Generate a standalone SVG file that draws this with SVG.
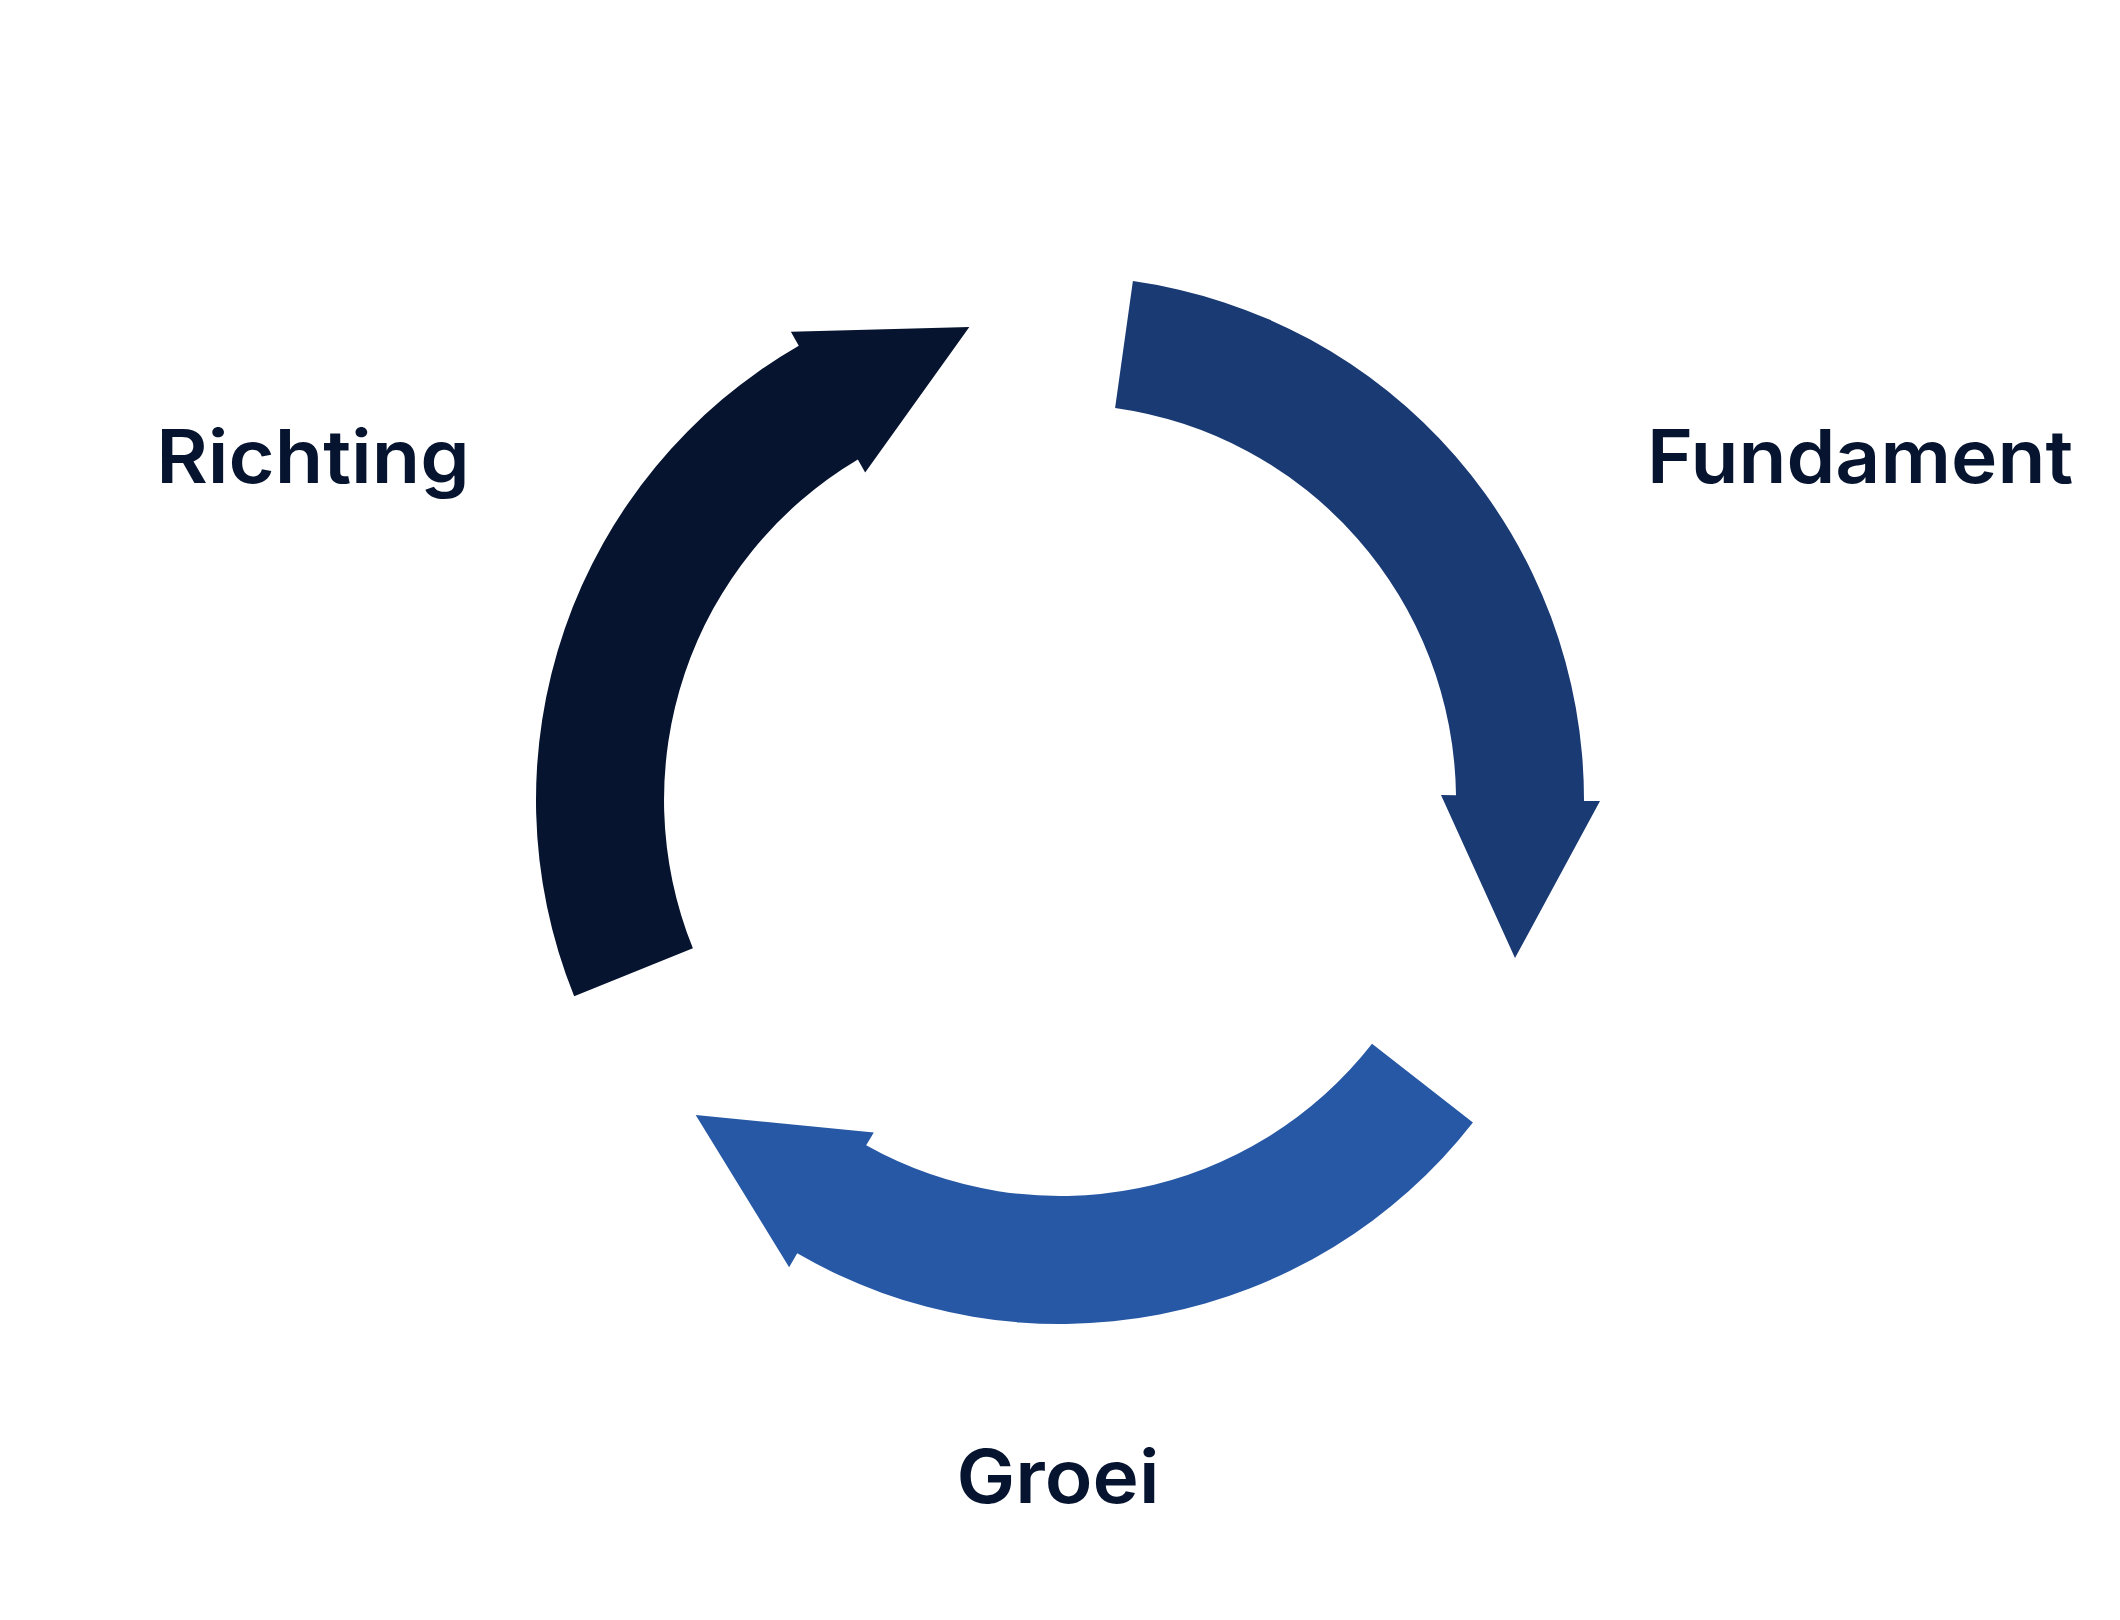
<svg xmlns="http://www.w3.org/2000/svg" width="2120" height="1620" viewBox="0 0 2120 1620">
  <style>
    .lbl { font-family: Inter, "Liberation Sans", sans-serif; font-weight: 600; font-size: 74px; fill: #06142F; text-anchor: middle; }
  </style>
  <defs>
    <path id="arrowShape" d="M 1132.9 281.1 A 524 524 0 0 1 1584 800.9 L 1600 801 L 1515 958 L 1441 795 L 1456 795.2 A 396 396 0 0 0 1115.1 407.9 Z"/>
  </defs>
  <rect width="2120" height="1620" fill="#FFFFFF"/>
  <g id="connectors">
    <use id="arrow-fundament" href="#arrowShape" fill="#1A3A73"/>
    <use id="arrow-groei" href="#arrowShape" fill="#2758A5" transform="rotate(120 1060 800)"/>
    <use id="arrow-richting" href="#arrowShape" fill="#061430" transform="rotate(240 1060 800)"/>
  </g>
  <g id="node-fundament">
    <text class="lbl" transform="translate(1860 483) scale(1.06 1)">Fundament</text>
  </g>
  <g id="node-groei">
    <text class="lbl" transform="translate(1058 1503) scale(1.06 1)">Groei</text>
  </g>
  <g id="node-richting">
    <text class="lbl" transform="translate(313 483) scale(1.07 1)">Richting</text>
  </g>
</svg>
